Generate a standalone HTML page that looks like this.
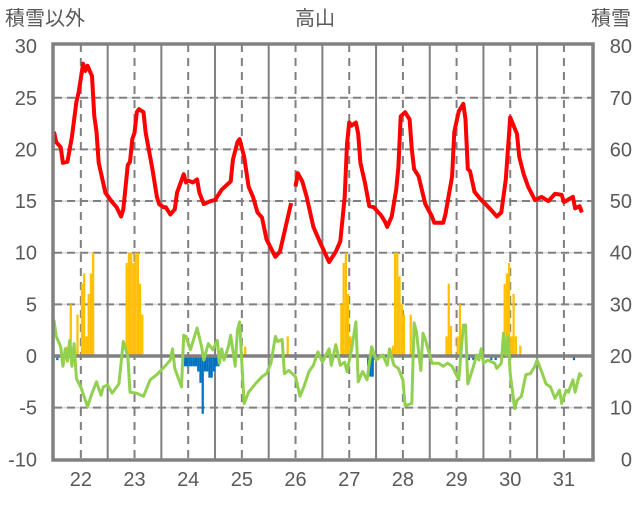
<!DOCTYPE html>
<html><head><meta charset="utf-8"><style>
html,body{margin:0;padding:0;background:#fff;}
svg text{font-family:"Liberation Sans","Noto Sans CJK JP",sans-serif;fill:#595959;}
</style></head><body>
<svg id="chart" width="636" height="501" xmlns="http://www.w3.org/2000/svg">
<text x="315" y="25" font-size="20" text-anchor="middle">高山</text>
<text x="5" y="25" font-size="20">積雪以外</text>
<text x="631" y="25" font-size="20" text-anchor="end">積雪</text>
<g id="grid"></g><g id="bars"></g><g id="lines"></g><g id="frame"></g><g id="labels"></g>
</svg>
<script>
const dayLabels=["22","23","24","25","26","27","28","29","30","31"];
const leftTicks=[30,25,20,15,10,5,0,-5,-10];
const rightTicks=[80,70,60,50,40,30,20,10,0];
const tempHours=[0,1,3,4,6,8,10,11,13,14,15,17,18,19,20,23,26,28,30,31,33,34,35,36,37,38,40,41,44,46,47,49,50,52,54,55,58,59,60,62,64,65,67,70,72,75,79,80,82,83,85,87,89,91,93,95,98,99,101,104,106,107,108,109,111,113,116,119,120,123,126,128,130,131,132,133,135,136,137,139,141,143,145,146,148,149,151,153,154,155,157,159,160,161,163,166,169,170,174,175,178,179,181,183,184,185,186,188,191,193,196,198,200,202,204,207,208,210,212,215,218,221,224,227,228,232,233,235,236];
const tempValues=[21.7,20.7,20.2,18.7,18.8,21.2,24.6,25.5,28.3,27.6,28.1,27.1,23.2,21.7,18.7,15.8,14.9,14.4,13.5,14.2,18.5,18.8,21.0,21.6,23.6,23.9,23.6,21.6,18.1,15.4,14.7,14.4,14.4,13.7,14.2,15.8,17.6,16.8,17.0,16.8,17.1,15.8,14.7,15.0,15.1,16.1,16.9,19.0,20.7,21.0,19.3,16.4,15.4,13.9,13.4,11.3,10.0,9.6,10.1,12.9,14.8,null,16.4,17.7,16.9,15.4,12.5,11.0,10.5,9.1,10.1,11.1,15.4,20.5,22.6,22.3,22.6,21.5,18.7,16.8,14.5,14.4,13.9,13.7,13.0,12.5,13.5,16.1,18.3,23.2,23.6,22.9,20.0,18.1,17.4,14.7,13.5,12.9,12.9,13.7,17.4,21.7,23.7,24.4,22.9,18.1,17.9,15.9,15.1,14.7,14.0,13.5,13.9,17.1,23.1,21.5,19.3,17.6,16.4,15.1,15.4,15.0,15.7,15.6,14.9,15.4,14.3,14.5,13.9];
const otherHours=[0,1,3,4,5,6,7,8,9,10,12,15,17,19,21,22,24,26,29,31,33,34,37,40,43,46,50,52,53,54,57,58,59,61,64,66,67,69,71,73,74,75,76,78,79,81,82,83,85,87,90,93,95,97,99,100,102,103,105,108,110,112,114,116,118,120,123,124,126,128,130,131,133,135,136,138,140,141,142,144,147,149,150,152,154,156,157,160,161,162,164,165,166,169,172,174,176,178,181,183,184,185,187,189,190,191,192,194,197,198,200,201,202,203,204,206,207,209,211,213,215,216,218,220,222,224,226,227,229,230,232,233,235,236];
const otherValues=[3.5,1.9,0.9,-1,0.7,-0.5,1.5,-1,1.2,-2.2,-3,-4.9,-3.6,-2.5,-3.8,-3,-2.8,-3.6,-2.7,1.4,0,-3.5,-3.6,-3.9,-2.3,-1.8,-0.9,-0.4,0.7,-1.2,-3,2,1.9,0.6,2.7,0.9,-0.4,1.2,0.6,1.5,-0.7,0.7,-0.4,0.9,2,-1,2.5,3.3,-4.6,-3.5,-2.7,-2,-1.7,-0.7,1.9,1.4,1.6,-1.7,-1.4,-2,-3.9,-2.8,-1.5,-0.9,0.4,-0.6,0.7,-0.9,1.1,-0.9,-0.6,-1.5,0.6,3.3,-2.5,-1.5,-2.3,-0.7,0.9,-0.4,0.1,-0.9,0.7,-0.9,-1.2,-2.3,-4.8,-4.6,3.2,2.4,-1.4,2.2,1.6,-0.7,-0.7,-1,-0.7,-1,-2.3,3,3,-2.7,-1.4,0.1,-0.4,0.7,-0.7,-0.4,-0.7,-1.2,-0.7,2.2,0.1,1.9,-1.7,-5.1,-4.3,-3.9,-1.8,-1.7,-1,-0.4,-1.5,-2.7,-3,-4.1,-3.3,-4.6,-3.3,-3.5,-2.3,-3.5,-1.7,-2];
const snowHours=[5,7,10,12,13,14,15,16,17,32,33,34,35,36,37,38,39,85,104,128,129,130,131,132,151,152,153,154,155,156,159,175,176,177,180,181,201,202,203,204,205,206,208];
const snowValues=[0.9,5,4,7,8,1.9,6,8,10,9,10,10,9,10,10,7,4,0.9,1.9,5,9,10,6,1.9,1,10,10,7.7,5,4,4,1.9,7,2.9,1.9,5,7,8,9,1.9,6,1.9,1];
const meltHours=[1,58,59,60,61,62,63,64,65,66,67,68,69,70,71,72,73,140,141,142,143,185,187,195,197,232];
const meltValues=[-0.4,-1,-1,-1,-1,-1,-1,-1.5,-2.6,-5.6,-1.5,-1.5,-2.1,-2.1,-1.5,-1,-1,-1,-2,-2,-0.4,-0.4,-0.4,-0.4,-0.4,-0.4];

const NS="http://www.w3.org/2000/svg";
const L=54,R=593,T=44,B=460,H0=0,H1=241;
const x=h=>L+(h-H0)/(H1-H0)*(R-L);
const y=v=>356-v*10.33;
const yR=v=>y(v/2-10);
function mk(tag,attrs,parent){const e=document.createElementNS(NS,tag);for(const k in attrs)e.setAttribute(k,attrs[k]);parent.appendChild(e);return e;}
const grid=document.getElementById('grid'),bars=document.getElementById('bars'),lines=document.getElementById('lines'),frame=document.getElementById('frame'),labels=document.getElementById('labels');
leftTicks.forEach(v=>{if(v===30||v===-10||v===0)return;
 const g=mk('line',{x1:L,x2:R,y1:y(v),y2:y(v),stroke:'#d9d9d9','stroke-width':1.5},grid);
 
 
 const d=mk('line',{x1:L,x2:R,y1:y(v),y2:y(v),stroke:'#808080','stroke-width':2,'stroke-dasharray':'8,5'},grid);
 
 });
for(let k=1;k<10;k++){const e=mk('line',{x1:x(24*k),x2:x(24*k),y1:T,y2:B,stroke:'#808080','stroke-width':2},grid);
 
 }
dayLabels.forEach((d,i)=>{const hx=x(12+24*i);
 const e=mk('line',{x1:hx,x2:hx,y1:T,y2:B,stroke:'#808080','stroke-width':2,'stroke-dasharray':'8,6'},grid);
 
 
 const t=mk('text',{x:hx,y:486,'font-size':20,'text-anchor':'middle'},labels);t.textContent=d;
 
 });
leftTicks.forEach(v=>{const t=mk('text',{x:37,y:y(v)+7,'font-size':20,'text-anchor':'end'},labels);t.textContent=v;
 
 });
rightTicks.forEach(v=>{const t=mk('text',{x:632,y:yR(v)+7,'font-size':20,'text-anchor':'end'},labels);t.textContent=v;
 
 });
const bw=(R-L)/(H1-H0);
snowHours.forEach((h,i)=>{const v=snowValues[i];const r=mk('rect',{x:x(h),y:y(v),width:bw,height:y(0)-y(v),fill:'#ffc000'},bars);
 
 });
meltHours.forEach((h,i)=>{const v=meltValues[i];const r=mk('rect',{x:x(h),y:y(0),width:bw,height:y(v)-y(0),fill:'#0070c0'},bars);
 
 });
function path(hs,vs){let d='',pen=false;hs.forEach((h,i)=>{const v=vs[i];if(v===null){pen=false;return;}d+=(pen?'L':'M')+x(h).toFixed(1)+','+y(v).toFixed(1);pen=true;});return d;}
const z=mk('line',{x1:L,x2:R,y1:y(0),y2:y(0),stroke:'#808080','stroke-width':3.5},lines);


const g=mk('path',{d:path(otherHours,otherValues),fill:'none',stroke:'#92d050','stroke-width':3,'stroke-linejoin':'round'},lines);


const r=mk('path',{d:path(tempHours,tempValues),fill:'none',stroke:'#ff0000','stroke-width':4,'stroke-linejoin':'round'},lines);


const f=mk('rect',{x:L-1,y:T,width:R-L+1,height:B-T,fill:'none',stroke:'#808080','stroke-width':3.5},frame);


</script>
</body></html>
